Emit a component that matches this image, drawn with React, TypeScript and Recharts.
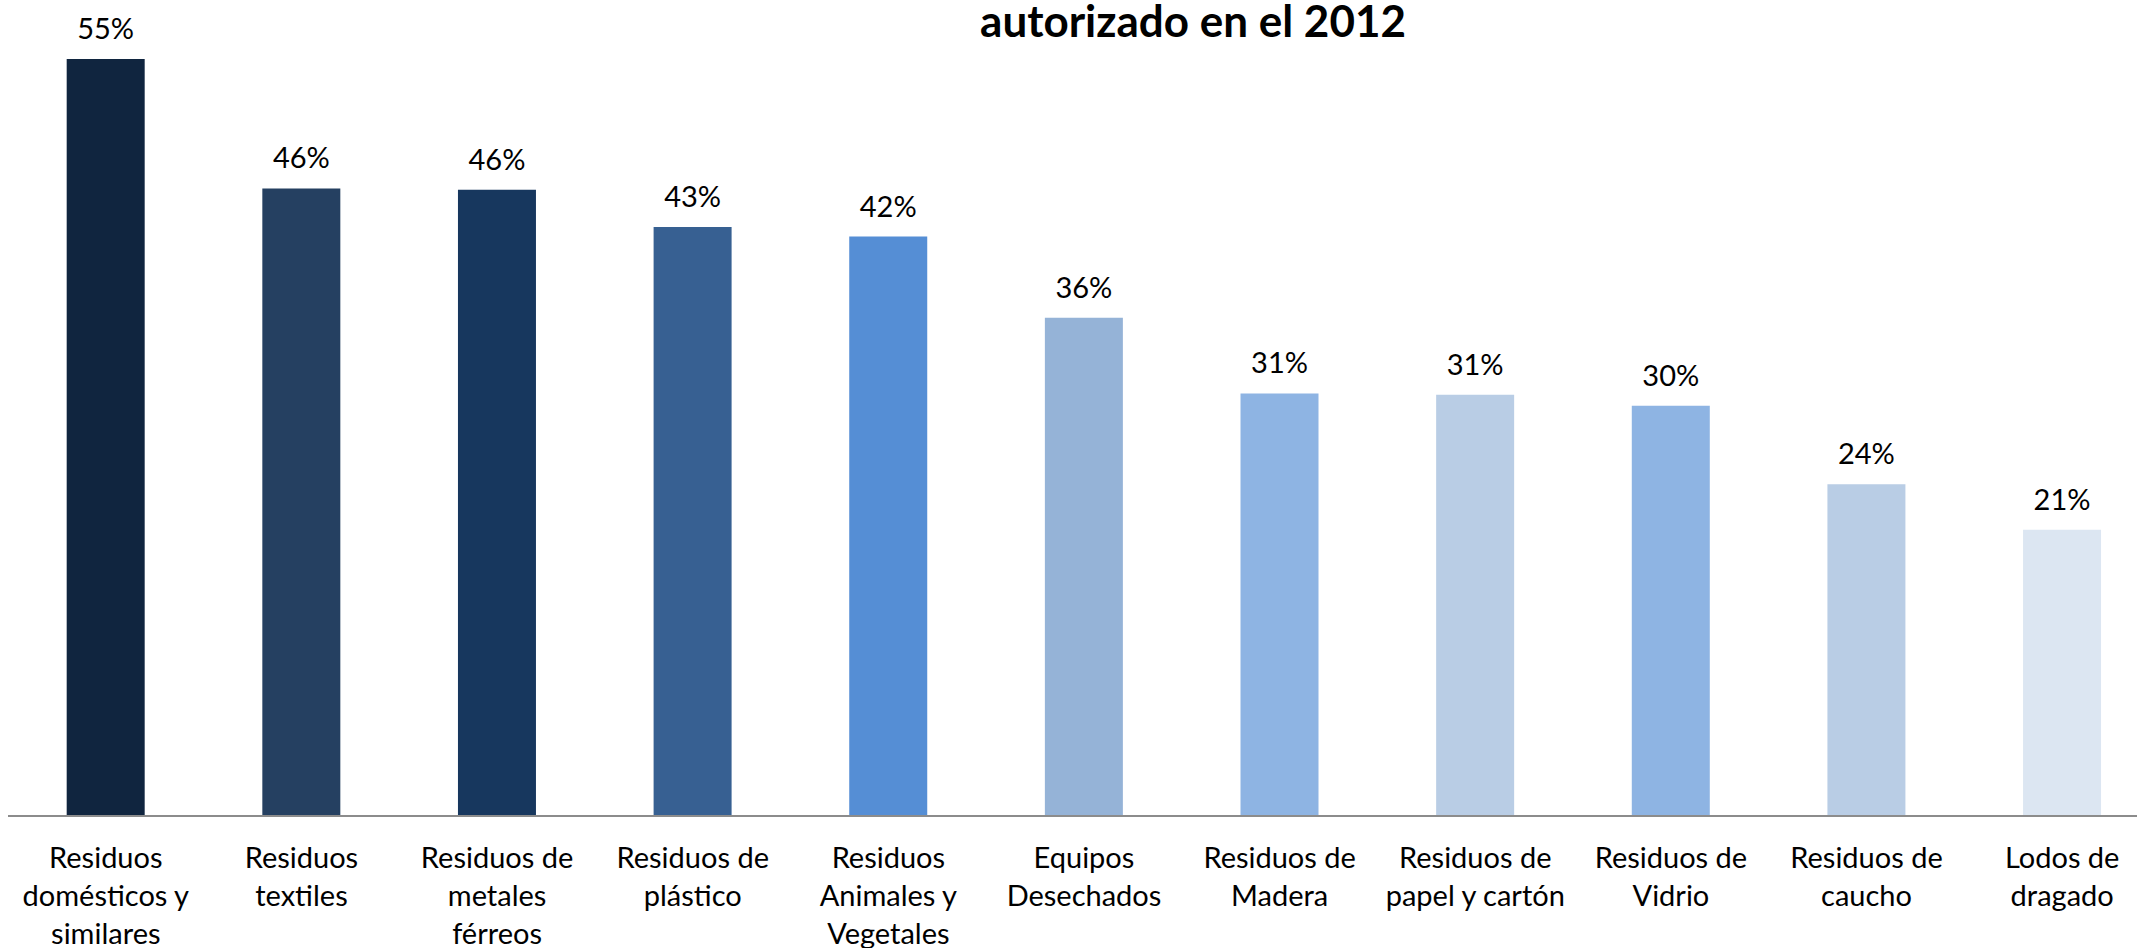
import { BarChart, Bar, XAxis, YAxis, Cell, LabelList } from "recharts";

// Categories, as printed under each bar
const CATEGORIES = [
  "Residuos domésticos y similares",
  "Residuos textiles",
  "Residuos de metales férreos",
  "Residuos de plástico",
  "Residuos Animales y Vegetales",
  "Equipos Desechados",
  "Residuos de Madera",
  "Residuos de papel y cartón",
  "Residuos de Vidrio",
  "Residuos de caucho",
  "Lodos de dragado",
];

// Share (%) per waste type
const VALUES = [55, 45.6, 45.5, 42.8, 42.1, 36.2, 30.7, 30.6, 29.8, 24.1, 20.8];

// Bar fills, left to right
const COLORS = [
  "#10253F",
  "#254061",
  "#17375E",
  "#376092",
  "#558ED5",
  "#95B3D7",
  "#8EB4E3",
  "#B9CDE5",
  "#8EB4E3",
  "#B9CDE5",
  "#DCE6F2",
];

const TITLE = "autorizado en el 2012";

const FONT = "Lato, 'Open Sans', sans-serif";

const data = CATEGORIES.map((name, i) => ({ name, value: VALUES[i] }));

// greedy word wrap by character count
function wrap(text: string, max: number) {
  const words = text.split(" ");
  const lines: string[] = [];
  let cur = "";
  for (const w of words) {
    const next = cur ? cur + " " + w : w;
    if (next.length > max && cur) {
      lines.push(cur);
      cur = w;
    } else {
      cur = next;
    }
  }
  if (cur) lines.push(cur);
  return lines;
}

function WrappedTick({ x, y, payload }: any) {
  const lines = wrap(payload.value, 14);
  return (
    <text x={x} y={y} textAnchor="middle" fill="#000" fontSize={29} fontFamily={FONT}>
      {lines.map((l, i) => (
        <tspan key={i} x={x} dy={i === 0 ? 52 : 38}>
          {l}
        </tspan>
      ))}
    </text>
  );
}

export default function App() {
  return (
    <div
      style={{
        position: "absolute",
        left: 0,
        top: 0,
        width: 2137,
        height: 948,
        overflow: "hidden",
        background: "#fff",
      }}
    >
      <div
        style={{
          position: "absolute",
          left: 843,
          top: 0,
          width: 700,
          textAlign: "center",
          fontFamily: FONT,
          fontWeight: 700,
          fontSize: 44,
          lineHeight: "40px",
          color: "#000",
        }}
      >
        {TITLE}
      </div>
      <div style={{ position: "absolute", left: 8, top: 0 }}>
        <BarChart
          width={2152}
          height={948}
          data={data}
          margin={{ top: 59, right: 0, bottom: 0, left: 0 }}
          barCategoryGap="30%"
        >
          <XAxis
            dataKey="name"
            height={132}
            interval={0}
            tickLine={false}
            tickSize={0}
            tickMargin={0}
            axisLine={{ stroke: "#8C8C8C", strokeWidth: 2 }}
            tick={<WrappedTick />}
          />
          <YAxis hide domain={[0, "dataMax"]} />
          <Bar dataKey="value" isAnimationActive={false}>
            {data.map((d, i) => (
              <Cell key={d.name} fill={COLORS[i]} />
            ))}
            <LabelList
              dataKey="value"
              position="top"
              offset={20}
              formatter={(v: any) => `${Math.round(v)}%`}
              style={{ fontSize: 29, fontFamily: FONT, fill: "#000" }}
            />
          </Bar>
        </BarChart>
      </div>
    </div>
  );
}
